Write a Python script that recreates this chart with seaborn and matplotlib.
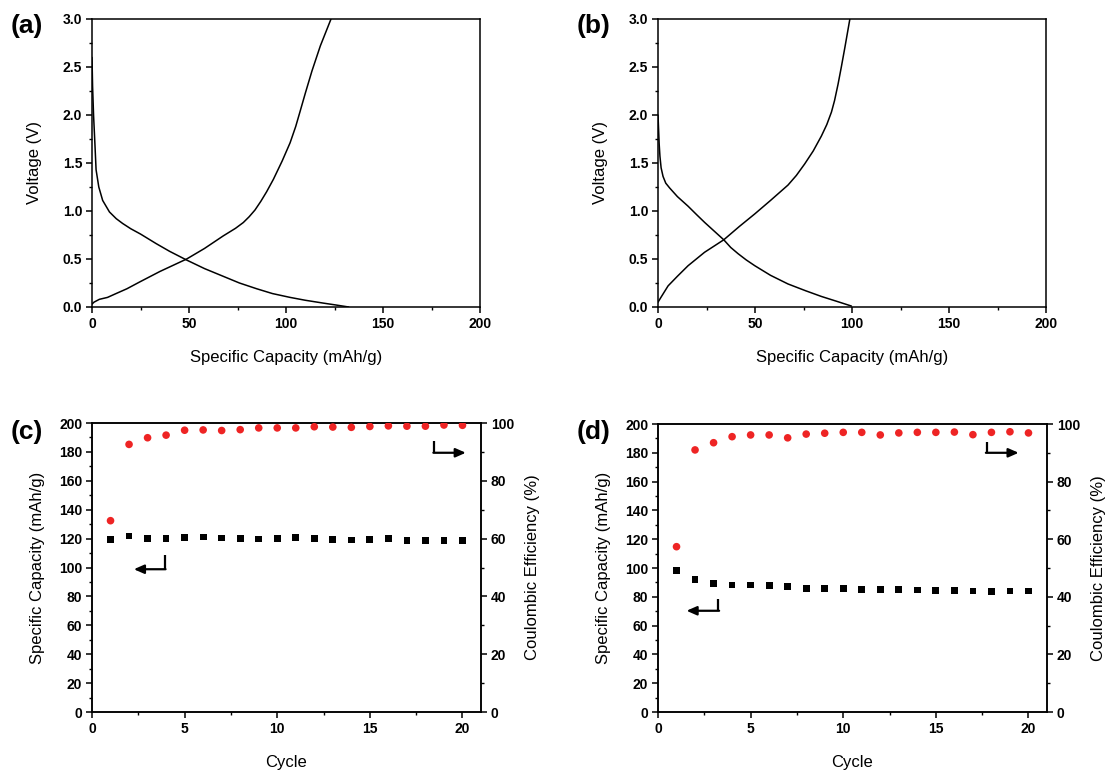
import numpy as np
import pandas as pd
import matplotlib
matplotlib.use("Agg")
import matplotlib.pyplot as plt
from matplotlib.ticker import MultipleLocator
import seaborn as sns

# ---- galvanostatic charge/discharge profiles (first cycle) ----
a_dis_cap = [0, 0.3, 0.8, 1.5, 2.1, 3.5, 5.5, 9.0, 12.5, 15.8, 20, 25, 33.1, 40, 48.7,
             58, 67.6, 76, 84.9, 93, 102.1, 110, 119.4, 126, 132.3]
a_dis_v = [2.6, 2.3, 2.0, 1.7, 1.43, 1.25, 1.11, 0.99, 0.92, 0.87, 0.815, 0.76, 0.66,
           0.58, 0.49, 0.40, 0.32, 0.25, 0.19, 0.14, 0.10, 0.07, 0.04, 0.02, 0.0]
a_chg_cap = [0, 1, 3.8, 8, 12.4, 18, 24.5, 35, 48.8, 58, 67.6, 74, 78, 81, 84, 87,
             90, 93.5, 98, 102.1, 105, 107.3, 110, 113.4, 117.7, 123.2]
a_chg_v = [0.03, 0.05, 0.08, 0.10, 0.14, 0.19, 0.26, 0.37, 0.50, 0.61, 0.74, 0.82,
           0.88, 0.94, 1.01, 1.10, 1.20, 1.33, 1.52, 1.71, 1.88, 2.04, 2.23, 2.46,
           2.72, 3.0]

b_dis_cap = [0, 0.3, 0.6, 1.0, 1.6, 2.6, 4, 6.0, 10, 15.5, 20, 24.1, 29, 33.9, 37.5,
             41.3, 45.5, 49.9, 58, 67, 76, 84.2, 92, 99.7]
b_dis_v = [2.0, 1.85, 1.7, 1.57, 1.45, 1.36, 1.29, 1.24, 1.15, 1.05, 0.96, 0.88, 0.79,
           0.70, 0.62, 0.555, 0.49, 0.43, 0.33, 0.24, 0.17, 0.11, 0.06, 0.01]
b_chg_cap = [0, 1.5, 5.2, 10, 15.5, 24, 33.9, 42, 49.9, 58, 62.5, 67, 71.3, 75.6, 80,
             84.2, 87, 89.4, 91, 92.8, 94.5, 96.3, 98.9]
b_chg_v = [0.05, 0.1, 0.22, 0.32, 0.43, 0.57, 0.70, 0.84, 0.97, 1.11, 1.19, 1.27, 1.37,
           1.49, 1.625, 1.78, 1.90, 2.03, 2.15, 2.32, 2.50, 2.70, 3.0]

# ---- cycling performance ----
cycles = list(range(1, 21))
c_capacity = [119.5, 121.8, 120.2, 120.2, 120.6, 121.1, 120.4, 119.9, 119.7, 120.2,
              120.9, 120.2, 119.5, 119.0, 119.5, 120.2, 118.8, 118.6, 118.8, 118.8]
c_efficiency = [66.2, 92.6, 94.9, 95.8, 97.5, 97.6, 97.4, 97.7, 98.3, 98.3,
                98.3, 98.7, 98.6, 98.5, 98.8, 99.0, 98.9, 98.9, 99.3, 99.2]
d_capacity = [98.1, 92.1, 89.4, 88.2, 88.2, 87.7, 87.0, 85.9, 85.9, 85.9,
              85.2, 85.2, 85.2, 84.7, 84.3, 84.3, 84.0, 83.6, 84.0, 84.0]
d_efficiency = [57.4, 91.0, 93.5, 95.6, 96.2, 96.2, 95.2, 96.5, 96.8, 97.1,
                97.1, 96.2, 96.9, 97.1, 97.1, 97.2, 96.3, 97.1, 97.3, 96.9]

sns.set_theme(style="ticks")
plt.rcParams["font.family"] = ["Liberation Sans", "DejaVu Sans"]
plt.rcParams["axes.linewidth"] = 1.1
plt.rcParams["axes.edgecolor"] = "black"
plt.rcParams["axes.labelcolor"] = "black"
plt.rcParams["text.color"] = "black"
plt.rcParams["xtick.color"] = "black"
plt.rcParams["ytick.color"] = "black"
plt.rcParams["xtick.labelcolor"] = "black"
plt.rcParams["ytick.labelcolor"] = "black"

fig = plt.figure(figsize=(11.14, 7.71), dpi=100)
W, H = 1114, 771


def make_axes(left, top, right, bottom):
    return fig.add_axes([left / W, 1 - bottom / H, (right - left) / W, (bottom - top) / H])


def style_ticks(ax):
    ax.tick_params(which="major", direction="out", length=4.5, width=1.1,
                   labelsize=10, pad=2.5, colors="black")
    ax.tick_params(which="minor", direction="out", length=2.5, width=1.0, colors="black")
    for lab in ax.get_xticklabels() + ax.get_yticklabels():
        lab.set_fontweight("bold")


def profile_panel(ax, dis_cap, dis_v, chg_cap, chg_v):
    df = pd.concat([
        pd.DataFrame({"cap": dis_cap, "v": dis_v, "step": "discharge"}),
        pd.DataFrame({"cap": chg_cap, "v": chg_v, "step": "charge"}),
    ])
    sns.lineplot(data=df, x="cap", y="v", units="step", estimator=None, sort=False,
                 color="black", linewidth=1.1, ax=ax, legend=False)
    ax.set_xlim(0, 200)
    ax.set_ylim(0, 3.0)
    ax.xaxis.set_major_locator(MultipleLocator(50))
    ax.xaxis.set_minor_locator(MultipleLocator(25))
    ax.yaxis.set_minor_locator(MultipleLocator(0.25))
    ax.set_yticks(np.arange(0, 3.01, 0.5))
    ax.set_yticklabels([f"{v:.1f}" for v in np.arange(0, 3.01, 0.5)])
    ax.set_xlabel("Specific Capacity (mAh/g)", fontsize=12, labelpad=14, color="black")
    ax.set_ylabel("Voltage (V)", fontsize=12, labelpad=15, color="black")
    style_ticks(ax)


def cycling_panel(ax, capacity, efficiency, black_arrow, red_arrow):
    df = pd.DataFrame({"cycle": cycles, "cap": capacity, "ce": efficiency})
    ax2 = ax.twinx()
    sns.scatterplot(data=df, x="cycle", y="cap", marker="s", color="black", s=24,
                    edgecolor="none", ax=ax, zorder=3)
    sns.scatterplot(data=df, x="cycle", y="ce", marker="o", color="#ee2424", s=30,
                    edgecolor="none", ax=ax2, zorder=3)
    ax.set_xlim(0, 21)
    ax.set_ylim(0, 200)
    ax2.set_ylim(0, 100)
    ax.xaxis.set_major_locator(MultipleLocator(5))
    ax.xaxis.set_minor_locator(MultipleLocator(2.5))
    ax.yaxis.set_major_locator(MultipleLocator(20))
    ax.yaxis.set_minor_locator(MultipleLocator(10))
    ax2.yaxis.set_major_locator(MultipleLocator(20))
    ax2.yaxis.set_minor_locator(MultipleLocator(10))
    ax.set_xlabel("Cycle", fontsize=12, labelpad=14, color="black")
    ax.set_ylabel("Specific Capacity (mAh/g)", fontsize=12, labelpad=10, color="black")
    ax2.set_ylabel("Coulombic Efficiency (%)", fontsize=12, labelpad=8, color="black")
    style_ticks(ax)
    style_ticks(ax2)
    for a in (ax, ax2):
        for sp in a.spines.values():
            sp.set_linewidth(1.1)

    # bent arrows pointing to the axis each series belongs to
    (bx, by0, by1, btip) = black_arrow
    ax.plot([bx, bx], [by0, by1], color="black", lw=1.6, solid_capstyle="butt")
    ax.annotate("", xy=(btip, by1), xytext=(bx + 0.04, by1),
                arrowprops=dict(arrowstyle="-|>,head_length=0.5,head_width=0.22",
                                color="black", lw=1.6, shrinkA=0, shrinkB=0))
    (rx, ry0, ry1, rtip) = red_arrow
    ax2.plot([rx, rx], [ry0, ry1], color="black", lw=1.6, solid_capstyle="butt")
    ax2.annotate("", xy=(rtip, ry1), xytext=(rx - 0.04, ry1),
                 arrowprops=dict(arrowstyle="-|>,head_length=0.5,head_width=0.22",
                                 color="black", lw=1.6, shrinkA=0, shrinkB=0))


ax_a = make_axes(92, 19, 480, 307)
ax_b = make_axes(658, 19, 1046, 307)
ax_c = make_axes(92, 423, 481, 712)
ax_d = make_axes(658, 424, 1047, 712)

profile_panel(ax_a, a_dis_cap, a_dis_v, a_chg_cap, a_chg_v)
profile_panel(ax_b, b_dis_cap, b_dis_v, b_chg_cap, b_chg_v)
cycling_panel(ax_c, c_capacity, c_efficiency, (3.93, 108.6, 98.8, 2.26), (18.47, 93.8, 89.7, 20.18))
cycling_panel(ax_d, d_capacity, d_efficiency, (3.26, 78.3, 70.3, 1.54), (17.74, 93.9, 90.0, 19.47))

for label, (x, y) in zip(["(a)", "(b)", "(c)", "(d)"],
                         [(11, 26), (577, 26), (11, 432), (577, 432)]):
    fig.text(x / W, 1 - y / H, label, fontsize=19, fontweight="bold",
             ha="left", va="center")

fig.savefig("out.png", dpi=100)
